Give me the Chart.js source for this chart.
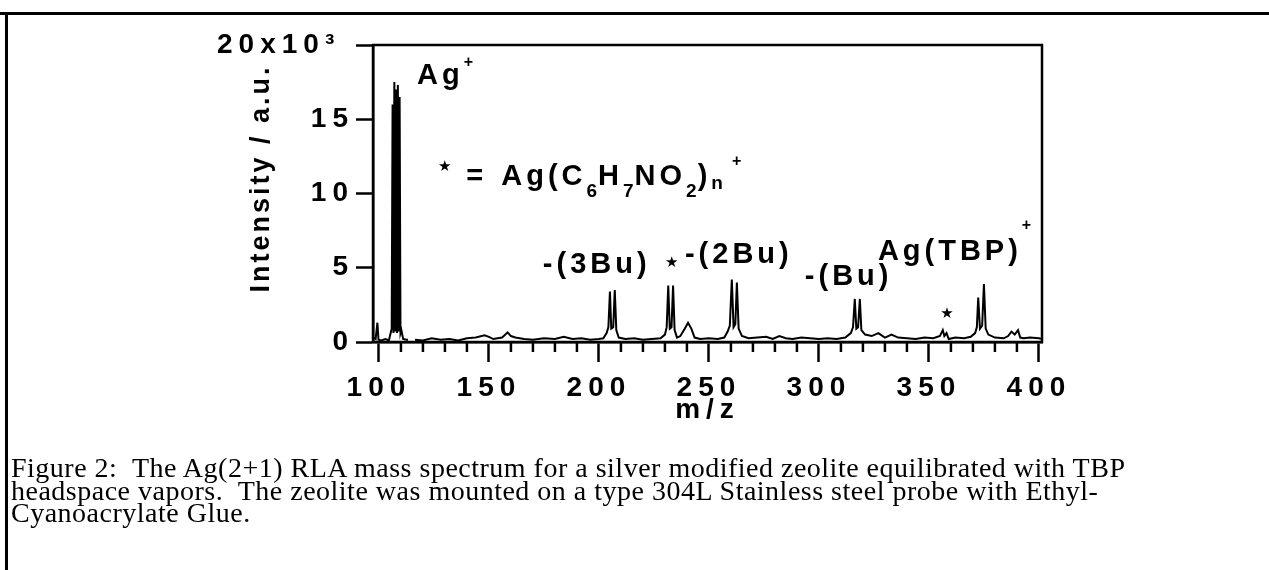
<!DOCTYPE html>
<html><head><meta charset="utf-8">
<script src="https://cdn.jsdelivr.net/npm/chart.js@4.4.0/dist/chart.umd.min.js"></script>
<style>
html,body{margin:0;padding:0;background:#fff;}
#wrap{position:relative;width:1269px;height:570px;overflow:hidden;background:#fff;}
#c{position:absolute;left:0;top:0;}
.frameTop{position:absolute;left:0;top:12px;width:1269px;height:3px;background:#000;}
.frameLeft{position:absolute;left:5px;top:12px;width:3px;height:558px;background:#000;}
.cap{position:absolute;left:11px;font-family:'Liberation Serif','Times New Roman',serif;font-size:28px;letter-spacing:0.5px;color:#000;white-space:pre;line-height:22.5px;}
</style></head>
<body>
<div id="wrap">
<canvas id="c" width="1269" height="570"></canvas>
<div class="frameTop"></div>
<div class="frameLeft"></div>
<div class="cap" style="top:457px">Figure 2:  The Ag(2+1) RLA mass spectrum for a silver modified zeolite equilibrated with TBP</div>
<div class="cap" style="top:479.5px">headspace vapors.  The zeolite was mounted on a type 304L Stainless steel probe with Ethyl-</div>
<div class="cap" style="top:502px">Cyanoacrylate Glue.</div>
</div>
<script>
// ---- data ----
const mz = [97.5, 98.5, 99.3, 99.8, 101, 103, 104.5, 105.8,
  106.2, 106.6, 107.0, 107.4, 107.8, 108.2, 108.6, 109.0, 109.4, 109.8, 110.2, 111, 112.5, 113.2,
  114.5,
  116.4, 120, 124, 128, 132, 136, 140, 144, 148, 150, 152, 156, 158.5, 160, 162, 166, 170, 175, 180, 184, 188, 192, 196, 200,
  202, 203.5, 204.3, 205, 205.6, 206.5, 207.2, 207.9, 209, 212, 216, 220, 224, 228,
  230, 230.8, 231.5, 232.2, 233, 233.7, 234.4, 235.5, 237, 239, 240.5, 242, 243.5, 246, 250, 254, 257,
  258.5, 259.5, 260.4, 261.2, 262, 262.7, 263.5, 265, 268, 272, 276, 279, 282, 285, 288, 292, 296, 300, 304, 308, 312,
  314.5, 315.5, 316.3, 317, 317.8, 318.6, 319.3, 321, 324, 327, 330, 333, 336, 340, 344, 348, 352, 355,
  356.3, 357, 358, 359, 362, 366, 369, 371, 371.8, 372.4, 373.2, 374.2, 375, 375.8, 377, 380, 384, 386, 387.5, 389, 390.5, 391.5, 393, 396, 400, 401.4];
const intensity = [300, 200, 1300, 150, 100, 200, 100, 900,
  16000, 600, 17500, 700, 17000, 600, 17300, 700, 16500, 600, 800, 200, 150, 150,
  null,
  150, 100, 250, 150, 200, 100, 250, 300, 450, 350, 200, 300, 650, 400, 300, 200, 150, 250, 200, 350, 200, 250, 150, 200,
  250, 600, 1000, 3400, 900, 1000, 3500, 800, 300, 200, 250, 150, 200, 250,
  500, 1000, 3800, 900, 1000, 3800, 800, 300, 400, 900, 1300, 900, 300, 200, 250, 200, 300,
  700, 1100, 4200, 1000, 1200, 4000, 900, 400, 250, 300, 350, 200, 400, 250, 200, 300, 250, 200, 250, 200, 300,
  600, 1000, 2900, 900, 1000, 2900, 800, 500, 400, 600, 300, 500, 300, 250, 200, 300, 250, 400,
  800, 400, 600, 200, 300, 250, 350, 600, 1000, 3000, 900, 1100, 3900, 900, 500, 300, 250, 400, 700, 500, 800, 300, 250, 300, 250, 200];

const xMajorLabels = ['100', '150', '200', '250', '300', '350', '400'];
const yTickLabels = ['0', '5', '10', '15', '20x10\u00B3 '];
const xTitle = 'm/z';
const yTitle = 'Intensity / a.u.';

// annotation texts and their anchor (m/z, intensity)
const annoText = [
  [{t:'Ag'}, {t:'+', k:'sup', dy:-17}],
  [{t:'\u2605', k:'star', dy:-14}, {t:'=', dx:15}, {t:'Ag(C', dx:14}, {t:'6', k:'sub', dy:12}, {t:'H'}, {t:'7', k:'sub', dy:12}, {t:'NO'}, {t:'2', k:'sub', dy:12}, {t:')'}, {t:'n', k:'sub', dy:4}, {t:'+', k:'sup', dy:-19, dx:8}],
  [{t:'-(3Bu)'}],
  [{t:'\u2605', k:'star'}],
  [{t:'-(2Bu)'}],
  [{t:'-(Bu)'}],
  [{t:'Ag(TBP)'}, {t:'+', k:'sup', dy:-30}],
  [{t:'\u2605', k:'star'}]
];
const annoMz  = [117.3, 126.8, 174.5, 230.0, 239.1, 293.6, 326.8, 355.2];
const annoInt = [17400, 10600, 4660, 5050, 5340, 3850, 5540, 1620];

const FONT = "'Liberation Sans', Arial, Helvetica, sans-serif";

const points = mz.map((m, i) => ({x: m, y: intensity[i]}));

const xTickValues = [];
for (let v = 100; v <= 400; v += 10) xTickValues.push(v);

const framePlugin = {
  id: 'frame',
  beforeDraw(chart) {
    chart.ctx.letterSpacing = '6px';
  },
  afterDraw(chart) {
    const ctx = chart.ctx;
    const a = chart.chartArea;
    const xs = chart.scales.x;
    const ys = chart.scales.y;
    ctx.save();
    ctx.letterSpacing = '0px';
    ctx.strokeStyle = '#000';
    ctx.lineWidth = 2.5;
    ctx.strokeRect(a.left, a.top, a.right - a.left, a.bottom - a.top);
    // minor ticks
    xs.ticks.forEach(t => {
      if (t.value % 50 !== 0) {
        const px = xs.getPixelForValue(t.value);
        ctx.beginPath();
        ctx.moveTo(px, a.bottom);
        ctx.lineTo(px, a.bottom + 10);
        ctx.stroke();
      }
    });
    // y axis title
    ctx.save();
    ctx.fillStyle = '#000';
    ctx.font = 'bold 27px ' + FONT;
    ctx.letterSpacing = '3px';
    ctx.textAlign = 'center';
    ctx.textBaseline = 'alphabetic';
    ctx.translate(a.left - 104, (a.top + a.bottom) / 2 - 15);
    ctx.rotate(-Math.PI / 2);
    ctx.fillText(yTitle, 0, 0);
    ctx.restore();
    // annotations
    ctx.fillStyle = '#000';
    ctx.textBaseline = 'alphabetic';
    ctx.textAlign = 'left';
    annoText.forEach((segs, i) => {
      let x = xs.getPixelForValue(annoMz[i]);
      const y = ys.getPixelForValue(annoInt[i]);
      segs.forEach(s => {
        if (s.k === 'sub') {
          ctx.font = 'bold 19px ' + FONT;
          ctx.letterSpacing = '1px';
        } else if (s.k === 'sup') {
          ctx.font = 'bold 16px ' + FONT;
          ctx.letterSpacing = '0px';
        } else if (s.k === 'star') {
          ctx.font = '15px "DejaVu Sans", sans-serif';
          ctx.letterSpacing = '0px';
        } else {
          ctx.font = 'bold 29px ' + FONT;
          ctx.letterSpacing = '4px';
        }
        x += (s.dx || 0);
        ctx.fillText(s.t, x, y + (s.dy || 0));
        x += ctx.measureText(s.t).width;
      });
    });
    ctx.restore();
  }
};

new Chart(document.getElementById('c'), {
  type: 'line',
  data: {
    datasets: [{
      data: points,
      borderColor: '#000',
      borderWidth: 2,
      pointRadius: 0,
      tension: 0,
      spanGaps: false,
      fill: false
    }]
  },
  options: {
    responsive: false,
    animation: false,
    events: [],
    layout: {padding: {left: 190, right: 227, top: 45, bottom: 138}},
    plugins: {legend: {display: false}, tooltip: {enabled: false}},
    scales: {
      x: {
        type: 'linear', min: 97.3, max: 401.4,
        afterFit(s) { s.height = 90; },
        afterBuildTicks(s) { s.ticks = xTickValues.map(v => ({value: v})); },
        ticks: {
          autoSkip: false, maxRotation: 0, color: '#000', padding: 9,
          font: {family: FONT, size: 28, weight: 'bold'},
          callback: (v) => (v % 50 === 0 ? xMajorLabels[(v - 100) / 50] : '')
        },
        grid: {
          drawOnChartArea: false, drawTicks: true, tickLength: 20, tickWidth: 2.5,
          tickColor: (c) => (c.tick && c.tick.value % 50 === 0 ? '#000' : 'rgba(0,0,0,0)')
        },
        border: {display: true, color: '#000', width: 2.5},
        title: {display: true, text: xTitle, color: '#000',
          font: {family: FONT, size: 28, weight: 'bold'}, padding: {top: 0, bottom: 5}}
      },
      y: {
        min: 0, max: 20000,
        afterFit(s) { s.width = 183; },
        afterBuildTicks(s) { s.ticks = [0, 5000, 10000, 15000, 20000].map(v => ({value: v})); },
        ticks: {
          color: '#000', padding: 2,
          font: {family: FONT, size: 28, weight: 'bold'},
          callback: (v) => yTickLabels[v / 5000]
        },
        grid: {drawOnChartArea: false, drawTicks: true, tickLength: 17, tickWidth: 2.5, tickColor: '#000'},
        border: {display: true, color: '#000', width: 2.5},
        title: {display: false}
      }
    }
  },
  plugins: [framePlugin]
});
</script>
</body></html>
